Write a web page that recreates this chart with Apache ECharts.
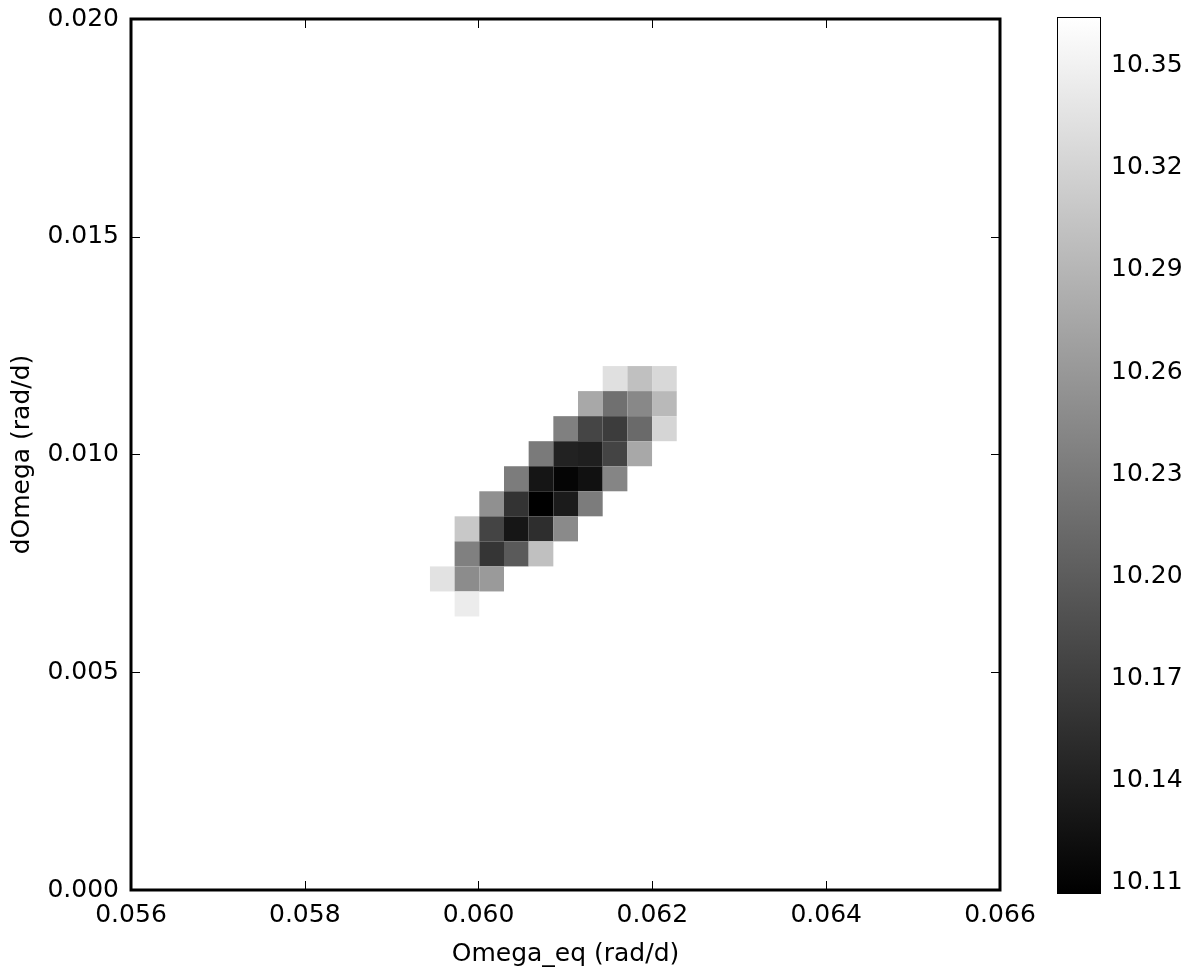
<!DOCTYPE html>
<html>
<head>
<meta charset="utf-8">
<script src="https://cdn.jsdelivr.net/npm/echarts@6/dist/echarts.min.js"></script>
<style>
html,body{margin:0;padding:0;background:#fff;}
#chart{width:1200px;height:976px;}
</style>
</head>
<body>
<div id="chart"></div>
<script>
// Bin centres (Omega_eq, rad/d) - columns left to right
const omegaEq = [0.059582, 0.059866, 0.060150, 0.060434, 0.060718, 0.061002, 0.061286, 0.061570, 0.061854, 0.062138];
// Bin centres (dOmega, rad/d) - rows top to bottom
const dOmega = [0.011743, 0.011168, 0.010593, 0.010018, 0.009443, 0.008868, 0.008293, 0.007718, 0.007143, 0.006568];
// Bin widths
const binWidthX = 0.000284;
const binWidthY = 0.000575;
// Cell values (rows top->bottom, columns left->right); null = empty
const valuesRows = [
  [null, null, null, null, null, null, null, 10.333, 10.301, 10.325],
  [null, null, null, null, null, null, 10.276, 10.220, 10.244, 10.293],
  [null, null, null, null, null, 10.236, 10.177, 10.167, 10.214, 10.322],
  [null, null, null, null, 10.230, 10.141, 10.138, 10.176, 10.276, null],
  [null, null, null, 10.232, 10.128, 10.112, 10.124, 10.241, null, null],
  [null, null, 10.252, 10.158, 10.107, 10.134, 10.232, null, null, null],
  [null, 10.309, 10.176, 10.129, 10.153, 10.246, null, null, null, null],
  [null, 10.236, 10.160, 10.198, 10.301, null, null, null, null, null],
  [10.335, 10.248, 10.262, null, null, null, null, null, null, null],
  [null, 10.345, null, null, null, null, null, null, null, null]
];
// Colour scale range and colourbar ticks
const colorMin = 10.107;
const colorMax = 10.364;
const colorTicks = [10.11, 10.14, 10.17, 10.20, 10.23, 10.26, 10.29, 10.32, 10.35];
const xTicksMin = 0.056, xTicksMax = 0.066, xInterval = 0.002;
const yTicksMin = 0.000, yTicksMax = 0.020, yInterval = 0.005;

const cells = [];
valuesRows.forEach((row, r) => {
  row.forEach((v, c) => {
    if (v !== null) cells.push([omegaEq[c], dOmega[r], v]);
  });
});

const FONT = 'DejaVu Sans';
const FS = 25;

const chart = echarts.init(document.getElementById('chart'), null, {renderer: 'canvas'});
const tickStyle = {show: true, inside: true, length: 9, lineStyle: {color: '#000', width: 1}};
const noLine = {show: false, onZero: false};

chart.setOption({
  animation: false,
  backgroundColor: '#fff',
  textStyle: {fontFamily: FONT, color: '#000'},
  grid: [
    {left: 131, right: 200, top: 19, bottom: 86, show: true, borderColor: '#000', borderWidth: 3, backgroundColor: 'transparent'},
    {left: 1058, right: 100, top: 18, bottom: 83, show: true, borderColor: '#000', borderWidth: 2, backgroundColor: 'transparent'}
  ],
  xAxis: [
    {type: 'value', gridIndex: 0, min: xTicksMin, max: xTicksMax, interval: xInterval,
     axisLine: noLine, axisTick: tickStyle, splitLine: {show: false},
     axisLabel: {fontFamily: FONT, fontSize: FS, color: '#000', margin: 13, formatter: v => v.toFixed(3)},
     name: 'Omega_eq (rad/d)', nameLocation: 'middle', nameGap: 52,
     nameTextStyle: {fontFamily: FONT, fontSize: FS, color: '#000'}},
    {type: 'value', gridIndex: 0, position: 'top', min: xTicksMin, max: xTicksMax, interval: xInterval,
     axisLine: noLine, axisTick: tickStyle, axisLabel: {show: false}, splitLine: {show: false}},
    {type: 'value', gridIndex: 1, min: 0, max: 1, show: false, axisLine: noLine}
  ],
  yAxis: [
    {type: 'value', gridIndex: 0, min: yTicksMin, max: yTicksMax, interval: yInterval,
     axisLine: noLine, axisTick: tickStyle, splitLine: {show: false},
     axisLabel: {fontFamily: FONT, fontSize: FS, color: '#000', margin: 12, formatter: v => v.toFixed(3)},
     name: 'dOmega (rad/d)', nameLocation: 'middle', nameGap: 96, nameRotate: 90,
     nameTextStyle: {fontFamily: FONT, fontSize: FS, color: '#000'}},
    {type: 'value', gridIndex: 0, position: 'right', min: yTicksMin, max: yTicksMax, interval: yInterval,
     axisLine: noLine, axisTick: tickStyle, axisLabel: {show: false}, splitLine: {show: false}},
    {type: 'value', gridIndex: 1, position: 'right', min: colorMin, max: colorMax,
     axisLine: noLine, splitLine: {show: false},
     axisTick: {show: true, inside: true, length: 9, lineStyle: {color: '#000', width: 1}, customValues: colorTicks},
     axisLabel: {fontFamily: FONT, fontSize: FS, color: '#000', margin: 11, customValues: colorTicks, formatter: v => v.toFixed(2)}}
  ],
  visualMap: {
    type: 'continuous', show: false, min: colorMin, max: colorMax, dimension: 2, seriesIndex: 0,
    inRange: {color: ['#000000', '#ffffff']}
  },
  series: [
    {
      type: 'custom', xAxisIndex: 0, yAxisIndex: 0, data: cells, clip: true,
      renderItem: (params, api) => {
        const x = api.value(0), y = api.value(1);
        const p0 = api.coord([x - binWidthX / 2, y + binWidthY / 2]);
        const p1 = api.coord([x + binWidthX / 2, y - binWidthY / 2]);
        return {type: 'rect', shape: {x: p0[0], y: p0[1], width: p1[0] - p0[0], height: p1[1] - p0[1]},
                style: {fill: api.visual('color'), stroke: null}};
      },
      encode: {x: 0, y: 1}
    },
    {
      type: 'custom', xAxisIndex: 2, yAxisIndex: 2, data: [[0, colorMin, 1, colorMax]], silent: true,
      renderItem: (params, api) => {
        const p0 = api.coord([api.value(0), api.value(3)]);
        const p1 = api.coord([api.value(2), api.value(1)]);
        return {type: 'rect', shape: {x: p0[0], y: p0[1], width: p1[0] - p0[0], height: p1[1] - p0[1]},
                style: {fill: new echarts.graphic.LinearGradient(0, 1, 0, 0, [{offset: 0, color: '#000'}, {offset: 1, color: '#fff'}])}};
      },
      encode: {x: [0, 2], y: [1, 3]}
    }
  ]
});
</script>
</body>
</html>
